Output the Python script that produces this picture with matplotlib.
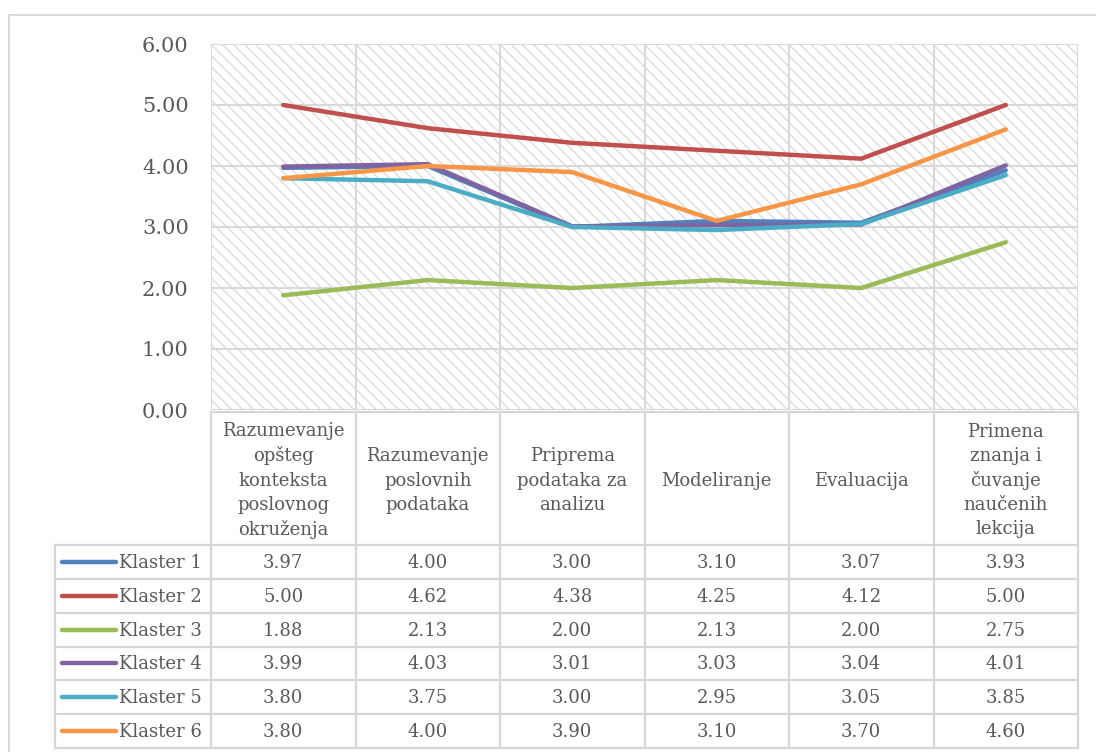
import matplotlib
matplotlib.use("Agg")
import matplotlib.pyplot as plt
from matplotlib.patches import Rectangle

# ---- data ----
categories = [
    "Razumevanje\nopšteg\nkonteksta\nposlovnog\nokruženja",
    "Razumevanje\nposlovnih\npodataka",
    "Priprema\npodataka za\nanalizu",
    "Modeliranje",
    "Evaluacija",
    "Primena\nznanja i\nčuvanje\nnaučenih\nlekcija",
]
series_names = ["Klaster 1", "Klaster 2", "Klaster 3", "Klaster 4", "Klaster 5", "Klaster 6"]
klaster_1 = [3.97, 4.00, 3.00, 3.10, 3.07, 3.93]
klaster_2 = [5.00, 4.62, 4.38, 4.25, 4.12, 5.00]
klaster_3 = [1.88, 2.13, 2.00, 2.13, 2.00, 2.75]
klaster_4 = [3.99, 4.03, 3.01, 3.03, 3.04, 4.01]
klaster_5 = [3.80, 3.75, 3.00, 2.95, 3.05, 3.85]
klaster_6 = [3.80, 4.00, 3.90, 3.10, 3.70, 4.60]
series_values = [klaster_1, klaster_2, klaster_3, klaster_4, klaster_5, klaster_6]
y_ticks = [0, 1, 2, 3, 4, 5, 6]

colors = ["#4F81BD", "#C0504D", "#9BBB59", "#8064A2", "#4BACC6", "#F79646"]
text_color = "#595959"
grid_color = "#d9d9d9"
font = "DejaVu Serif"

plt.rcParams["font.family"] = font
plt.rcParams["hatch.linewidth"] = 1.0

W, H = 1096, 752
fig = plt.figure(figsize=(W / 100, H / 100), dpi=100)

# layout in pixels
plot_l, plot_r, plot_t, plot_b = 211, 1078, 44, 410
legend_l = 55
header_t = 412
header_b = 545
row_h = (748 - header_b) / len(series_names)

# ---- chart frame and table (pixel space) ----
tab = fig.add_axes([0, 0, 1, 1])
tab.set_xlim(0, W)
tab.set_ylim(H, 0)
tab.axis("off")
tab.plot([9, W], [15, 15], color=grid_color, lw=1.5)
tab.plot([9, 9], [15, H], color=grid_color, lw=1.5)

n = len(categories)
col_w = (plot_r - plot_l) / n
col_edges = [plot_l + i * col_w for i in range(n + 1)]
table_bottom = header_b + row_h * len(series_names)

tcol = "#d6d6d6"
tlw = 1.6
for xe in col_edges:
    tab.plot([xe, xe], [header_t, table_bottom], color=tcol, lw=tlw, solid_capstyle="butt")
tab.plot([legend_l, legend_l], [header_b, table_bottom], color=tcol, lw=tlw)
tab.plot([plot_l, plot_r], [header_t, header_t], color=tcol, lw=tlw)
for r in range(len(series_names) + 1):
    yy = header_b + r * row_h
    tab.plot([legend_l, plot_r], [yy, yy], color=tcol, lw=tlw)

# header labels
for i, cat in enumerate(categories):
    tab.text(plot_l + (i + 0.5) * col_w, (header_t + header_b) / 2 + 2, cat,
             ha="center", va="center", fontsize=13, color=text_color,
             linespacing=1.43)

# rows: legend key + values
for r, (name, vals, c) in enumerate(zip(series_names, series_values, colors)):
    yc = header_b + (r + 0.5) * row_h
    tab.plot([62, 116], [yc, yc], color=c, lw=3.2, solid_capstyle="round")
    tab.text(119, yc + 1, name, ha="left", va="center", fontsize=13, color=text_color)
    for i, v in enumerate(vals):
        tab.text(plot_l + (i + 0.5) * col_w, yc + 1, f"{v:.2f}", ha="center",
                 va="center", fontsize=13, color=text_color)

# ---- line chart ----
ax = fig.add_axes([plot_l / W, 1 - plot_b / H, (plot_r - plot_l) / W, (plot_b - plot_t) / H])
ax.set_xlim(0, n)
ax.set_ylim(0, 6)
ax.add_patch(Rectangle((0, 0), 1, 1, transform=ax.transAxes, facecolor="white",
                       edgecolor="#dcdcdc", hatch="\\\\\\", lw=0, zorder=0))
ax.patch.set_visible(False)
for yv in y_ticks:
    ax.axhline(yv, color=grid_color, lw=1.5, zorder=1)
for i in range(n + 1):
    ax.axvline(i, color=grid_color, lw=1.5, zorder=1)

x = [i + 0.5 for i in range(n)]
for vals, c in zip(series_values, colors):
    ax.plot(x, vals, color=c, lw=3.2, solid_joinstyle="round",
            solid_capstyle="round", zorder=3)

ax.set_yticks(y_ticks)
ax.set_yticklabels([f"{v:.2f}" for v in y_ticks])
ax.tick_params(axis="y", length=0, pad=16, labelsize=15, labelcolor=text_color)
ax.set_xticks([])
for s in ax.spines.values():
    s.set_visible(False)

fig.savefig("out.png", dpi=100, facecolor="white")
